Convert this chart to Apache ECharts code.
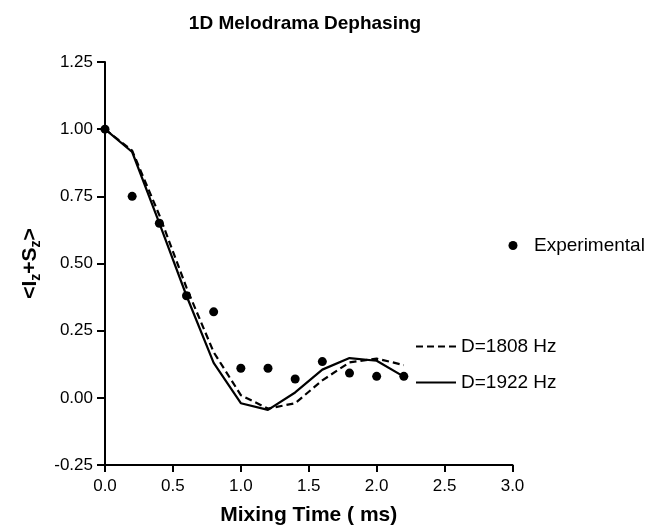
<!DOCTYPE html>
<html>
<head>
<meta charset="utf-8">
<script src="https://cdn.jsdelivr.net/npm/echarts@6/dist/echarts.min.js"></script>
<style>html,body{margin:0;padding:0;background:#fff}#c{width:649px;height:531px}</style>
</head>
<body>
<div id="c"></div>
<script>
var mixingTime = [0.0, 0.2, 0.4, 0.6, 0.8, 1.0, 1.2, 1.4, 1.6, 1.8, 2.0, 2.2];
var experimental = [1.00, 0.75, 0.65, 0.38, 0.32, 0.11, 0.11, 0.07, 0.135, 0.092, 0.08, 0.08];
var d1808 = [1.00, 0.92, 0.68, 0.41, 0.17, 0.01, -0.04, -0.02, 0.065, 0.132, 0.146, 0.122];
var d1922 = [1.00, 0.915, 0.65, 0.38, 0.13, -0.02, -0.045, 0.02, 0.105, 0.148, 0.138, 0.079];
var xTicks = [0.0, 0.5, 1.0, 1.5, 2.0, 2.5, 3.0];
var yTicks = [-0.25, 0.00, 0.25, 0.50, 0.75, 1.00, 1.25];

function pairs(xs, ys) { return xs.map(function (x, i) { return [x, ys[i]]; }); }

var FONT = 'Liberation Sans, Arial, sans-serif';
var chart = echarts.init(document.getElementById('c'), null, {renderer: 'canvas'});
chart.setOption({
  animation: false,
  backgroundColor: '#fff',
  textStyle: {fontFamily: FONT, color: '#000'},
  title: {
    text: '1D Melodrama Dephasing',
    left: 300, top: 9, textAlign: 'center',
    textStyle: {fontFamily: FONT, fontSize: 19, fontWeight: 'bold', color: '#000'}
  },
  grid: {left: 105, right: 136.5, top: 62, bottom: 64, containLabel: false},
  xAxis: {
    type: 'value', min: xTicks[0], max: xTicks[xTicks.length - 1], interval: 0.5,
    name: 'Mixing Time ( ms)', nameLocation: 'middle', nameGap: 40,
    nameTextStyle: {fontFamily: FONT, fontSize: 21, fontWeight: 'bold', color: '#000'},
    axisLine: {onZero: false, lineStyle: {color: '#000', width: 2}},
    axisTick: {show: true, length: 7, lineStyle: {color: '#000', width: 2}},
    axisLabel: {fontFamily: FONT, fontSize: 17, color: '#000', margin: 13,
      formatter: function (v) { return v.toFixed(1); }},
    splitLine: {show: false}
  },
  yAxis: {
    type: 'value', min: yTicks[0], max: yTicks[yTicks.length - 1], interval: 0.25,
    name: '{m|<I}{s|z}{m|+S}{s|z}{m|>}', nameLocation: 'middle', nameGap: 62,
    nameTextStyle: {
      rich: {
        m: {fontFamily: FONT, fontSize: 21, fontWeight: 'bold', color: '#000', lineHeight: 26, verticalAlign: 'middle'},
        s: {fontFamily: FONT, fontSize: 14, fontWeight: 'bold', color: '#000', lineHeight: 14, verticalAlign: 'bottom', padding: [8, 0, 0, 0]}
      }
    },
    axisLine: {onZero: false, lineStyle: {color: '#000', width: 2}},
    axisTick: {show: true, length: 8, lineStyle: {color: '#000', width: 2}},
    axisLabel: {fontFamily: FONT, fontSize: 17, color: '#000', margin: 12,
      formatter: function (v) { return v.toFixed(2); }},
    splitLine: {show: false}
  },
  legend: [
    {data: ['Experimental'], left: 508.5, top: 236, padding: 0, orient: 'vertical', icon: 'circle',
      itemWidth: 32, itemHeight: 9, itemStyle: {opacity: 1},
      textStyle: {fontFamily: FONT, fontSize: 19, color: '#000'}},
    {data: ['D=1808 Hz'], left: 415, top: 337, padding: 0, orient: 'vertical',
      itemWidth: 40, itemHeight: 14, itemStyle: {opacity: 0},
      textStyle: {fontFamily: FONT, fontSize: 19, color: '#000'}},
    {data: ['D=1922 Hz'], left: 415, top: 373, padding: 0, orient: 'vertical',
      itemWidth: 40, itemHeight: 14, itemStyle: {opacity: 0},
      textStyle: {fontFamily: FONT, fontSize: 19, color: '#000'}}
  ],
  series: [
    {name: 'D=1808 Hz', type: 'line', data: pairs(mixingTime, d1808), symbol: 'none',
      lineStyle: {color: '#000', width: 2.2, type: [7, 4]}, itemStyle: {color: '#000'}, z: 2},
    {name: 'D=1922 Hz', type: 'line', data: pairs(mixingTime, d1922), symbol: 'none',
      lineStyle: {color: '#000', width: 2.2, type: 'solid'}, itemStyle: {color: '#000'}, z: 3},
    {name: 'Experimental', type: 'scatter', data: pairs(mixingTime, experimental), symbol: 'circle',
      symbolSize: 9, itemStyle: {color: '#000', opacity: 1}, z: 4}
  ]
});
</script>
</body>
</html>
